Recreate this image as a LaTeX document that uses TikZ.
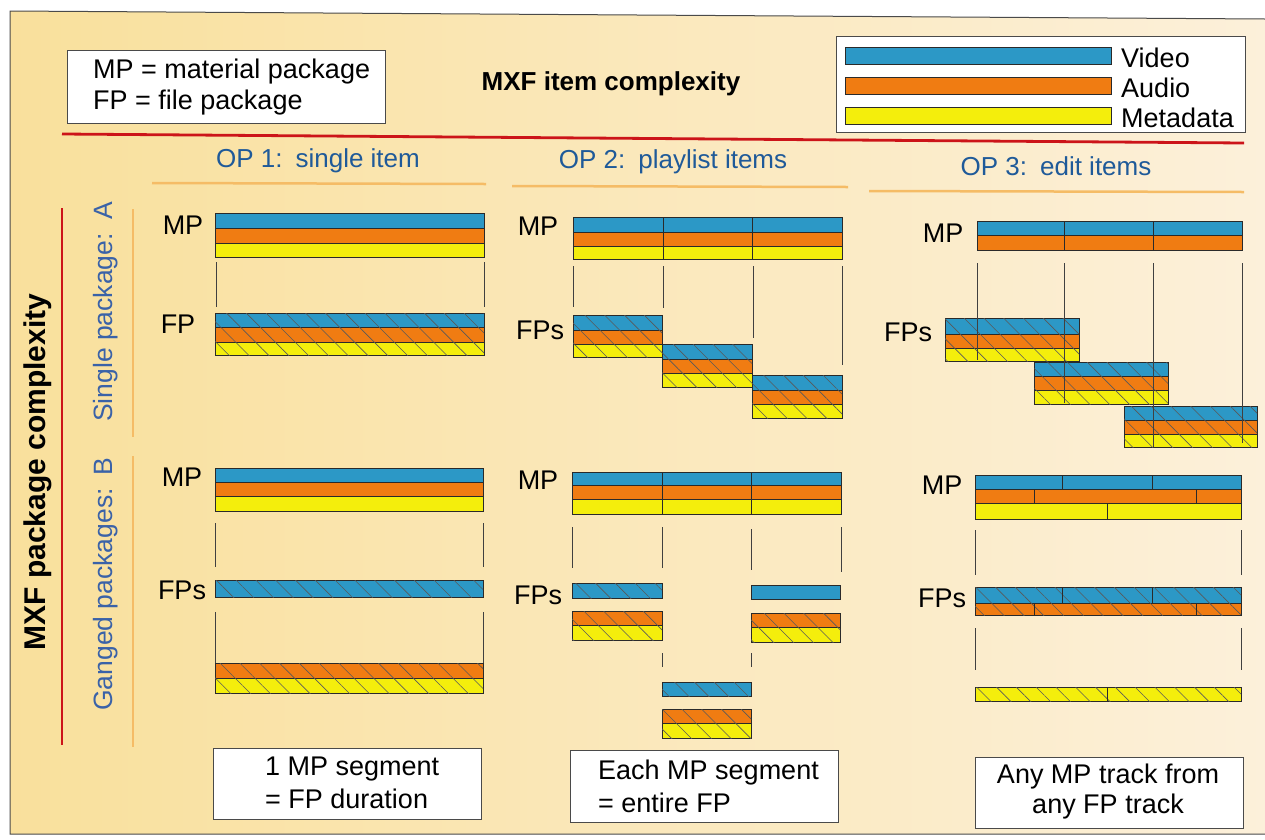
\documentclass[tikz,border=0pt]{standalone}
\usepackage{fontspec}
\setmainfont{Liberation Sans}
\usetikzlibrary{patterns.meta}
\definecolor{vidc}{HTML}{2C98C6}
\definecolor{audc}{HTML}{F07C12}
\definecolor{metc}{HTML}{F4EE0C}
\definecolor{edgec}{HTML}{2A2A2A}
\definecolor{headc}{HTML}{1F5A99}
\definecolor{sidec}{HTML}{3A62A8}
\definecolor{redc}{HTML}{CC1419}
\definecolor{ornc}{HTML}{F5BC66}
\definecolor{bgl}{HTML}{F9E09C}
\definecolor{bgr}{HTML}{FCF0DA}
\definecolor{framec}{HTML}{4A4A4A}
\begin{document}
\begin{tikzpicture}[x=1pt,y=-1pt,
  txt/.style={inner sep=0pt, font=\fontsize{27}{31}\selectfont},
  lab/.style={inner sep=0pt, font=\fontsize{27}{31}\selectfont},
  head/.style={inner sep=0pt, text=headc, font=\fontsize{26}{30}\selectfont},
  side/.style={inner sep=0pt, text=sidec, rotate=90, font=\fontsize{26.5}{30}\selectfont},
  boxst/.style={fill=white, draw=framec, line width=0.8pt},
  vid/.style={fill=vidc, draw=edgec, line width=0.9pt},
  aud/.style={fill=audc, draw=edgec, line width=0.9pt},
  met/.style={fill=metc, draw=edgec, line width=0.9pt},
  hatch/.style={postaction={pattern={Lines[angle=-45,distance=14pt,line width=0.6pt]}, pattern color=black!65}},
  dv/.style={draw=edgec, line width=0.9pt},
  conn/.style={draw=black!75, line width=1pt},
  redl/.style={draw=redc, line width=2.8pt},
  ornl/.style={draw=ornc, line width=2.5pt}]
\useasboundingbox (0,0) rectangle (1265,839);
\fill[white] (0,0) rectangle (1265,839);
\shade[left color=bgl, right color=bgr] (10,11) -- (1265,19) -- (1265,834) -- (10,834) -- cycle;
\draw[framec, line width=1pt] (1265,19) -- (10,11) -- (10,834) -- (1265,834);

% top legends
\draw[boxst] (67,50) rectangle (385,123);
\node[txt, anchor=west] (lg1) at (93,72) {MP = material package};
\node[txt, anchor=west] (lg2) at (93,103) {FP = file package};
\node[inner sep=0pt, font=\bfseries\fontsize{26}{30}\selectfont] (title) at (611,84) {MXF item complexity};
\draw[boxst] (836,36) rectangle (1245,132);
\draw[vid] (845,47) rectangle (1111,64);
\draw[aud] (845,77) rectangle (1111,94);
\draw[met] (845,107) rectangle (1111,124);
\node[txt, anchor=west] (lgv) at (1121,58) {Video};
\node[txt, anchor=west] (lga) at (1121,88) {Audio};
\node[txt, anchor=west] (lgm) at (1121,118) {Metadata};
\draw[redl] (62,134) -- (1244,143);

% column headings
\node[head] (op1) at (318,161) {OP 1:\enspace single item};
\node[head] (op2) at (673,162) {OP 2:\enspace playlist items};
\node[head] (op3) at (1056,166) {OP 3:\enspace edit items};
\draw[ornl] (152,183) -- (486,184);
\draw[ornl] (512,186) -- (848,187);
\draw[ornl] (869,191) -- (1244,192);

% row headings
\draw[redl] (62,208) -- (62,745);
\node[inner sep=0pt, rotate=90, font=\bfseries\fontsize{30}{32}\selectfont] (rowt) at (38,472) {MXF package complexity};
\node[side] (rowa) at (106,312) {Single package:\enspace A};
\node[side] (rowb) at (106,584) {Ganged packages:\enspace B};
\draw[ornl] (133,209) -- (133,437);
\draw[ornl] (133,456) -- (133,747);

% ===== Single, OP1
\node[lab] (s1mp) at (183,225) {MP};
\draw[vid] (215,213) rectangle (484,228);
\draw[aud] (215,228) rectangle (484,243);
\draw[met] (215,243) rectangle (484,257);
\draw[conn] (216,262) -- (216,307);
\draw[conn] (484,262) -- (484,307);
\node[lab] (s1fp) at (178,324) {FP};
\draw[vid,hatch] (215,313) rectangle (484,327);
\draw[aud,hatch] (215,327) rectangle (484,342);
\draw[met,hatch] (215,342) rectangle (484,355);

% ===== Single, OP2
\node[lab] (s2mp) at (538,226) {MP};
\draw[vid] (573,217) rectangle (842,232);
\draw[aud] (573,232) rectangle (842,246);
\draw[met] (573,246) rectangle (842,259);
\draw[dv] (663,217) -- (663,259);
\draw[dv] (752,217) -- (752,259);
\draw[conn] (573,266) -- (573,307);
\draw[conn] (663,266) -- (663,308);
\draw[conn] (753,266) -- (753,338);
\draw[conn] (842,266) -- (842,365);
\node[lab] (s2fp) at (540,330) {FPs};
\draw[vid,hatch] (573,315) rectangle (662,330);
\draw[aud,hatch] (573,330) rectangle (662,344);
\draw[met,hatch] (573,344) rectangle (662,357);
\draw[vid,hatch] (662,344) rectangle (752,359);
\draw[aud,hatch] (662,359) rectangle (752,373);
\draw[met,hatch] (662,373) rectangle (752,387);
\draw[vid,hatch] (752,375) rectangle (842,390);
\draw[aud,hatch] (752,390) rectangle (842,404);
\draw[met,hatch] (752,404) rectangle (842,418);

% ===== Single, OP3
\node[lab] (s3mp) at (943,233) {MP};
\draw[vid] (977,221) rectangle (1242,235);
\draw[aud] (977,235) rectangle (1242,250);
\draw[dv] (1064,221) -- (1064,250);
\draw[dv] (1153,221) -- (1153,250);
\node[lab] (s3fp) at (908,332) {FPs};
\draw[vid,hatch] (945,318) rectangle (1079,334);
\draw[aud,hatch] (945,334) rectangle (1079,348);
\draw[met,hatch] (945,348) rectangle (1079,361);
\draw[vid,hatch] (1034,362) rectangle (1168,376);
\draw[aud,hatch] (1034,376) rectangle (1168,390);
\draw[met,hatch] (1034,390) rectangle (1168,404);
\draw[vid,hatch] (1124,406) rectangle (1257,420);
\draw[aud,hatch] (1124,420) rectangle (1257,434);
\draw[met,hatch] (1124,434) rectangle (1257,447);
\draw[conn] (977,263) -- (977,360);
\draw[conn] (1064,263) -- (1064,403);
\draw[conn] (1153,263) -- (1153,447);
\draw[conn] (1242,263) -- (1242,443);

% ===== Ganged, OP1
\node[lab] (g1mp) at (182,477) {MP};
\draw[vid] (215,468) rectangle (483,482);
\draw[aud] (215,482) rectangle (483,496);
\draw[met] (215,496) rectangle (483,511);
\draw[conn] (215,523) -- (215,567);
\draw[conn] (483,523) -- (483,567);
\node[lab] (g1fp) at (182,590) {FPs};
\draw[vid,hatch] (215,580) rectangle (483,597);
\draw[conn] (215,612) -- (215,663);
\draw[conn] (483,612) -- (483,663);
\draw[aud,hatch] (215,663) rectangle (483,678);
\draw[met,hatch] (215,678) rectangle (483,693);

% ===== Ganged, OP2
\node[lab] (g2mp) at (538,480) {MP};
\draw[vid] (572,472) rectangle (841,485);
\draw[aud] (572,485) rectangle (841,499);
\draw[met] (572,499) rectangle (841,514);
\draw[dv] (662,472) -- (662,514);
\draw[dv] (751,472) -- (751,514);
\draw[conn] (572,527) -- (572,568);
\draw[conn] (662,527) -- (662,568);
\draw[conn] (751,529) -- (751,570);
\draw[conn] (841,527) -- (841,572);
\node[lab] (g2fp) at (538,595) {FPs};
\draw[vid,hatch] (572,583) rectangle (662,598);
\draw[aud,hatch] (572,611) rectangle (662,625);
\draw[met,hatch] (572,625) rectangle (662,640);
\draw[vid] (751,585) rectangle (840,599);
\draw[aud,hatch] (751,613) rectangle (840,627);
\draw[met,hatch] (751,627) rectangle (840,642);
\draw[conn] (662,653) -- (662,667);
\draw[conn] (751,653) -- (751,667);
\draw[vid,hatch] (662,682) rectangle (751,696);
\draw[aud,hatch] (662,709) rectangle (751,723);
\draw[met,hatch] (662,723) rectangle (751,738);

% ===== Ganged, OP3
\node[lab] (g3mp) at (942,485) {MP};
\draw[vid] (975,475) rectangle (1241,489);
\draw[aud] (975,489) rectangle (1241,503);
\draw[met] (975,503) rectangle (1241,519);
\draw[dv] (1062,475) -- (1062,489);
\draw[dv] (1152,475) -- (1152,489);
\draw[dv] (1034,489) -- (1034,503);
\draw[dv] (1196,489) -- (1196,503);
\draw[dv] (1107,503) -- (1107,519);
\draw[conn] (975,530) -- (975,575);
\draw[conn] (1241,530) -- (1241,575);
\node[lab] (g3fp) at (942,598) {FPs};
\draw[vid,hatch] (975,587) rectangle (1241,603);
\draw[aud,hatch] (975,603) rectangle (1241,615);
\draw[dv] (1062,587) -- (1062,603);
\draw[dv] (1152,587) -- (1152,603);
\draw[dv] (1034,603) -- (1034,615);
\draw[dv] (1196,603) -- (1196,615);
\draw[conn] (975,628) -- (975,670);
\draw[conn] (1241,628) -- (1241,670);
\draw[met,hatch] (975,687) rectangle (1241,701);
\draw[dv] (1107,687) -- (1107,701);

% ===== bottom boxes
\draw[boxst] (213,748) rectangle (481,819);
\node[txt, anchor=west] (b1a) at (265,769) {1 MP segment};
\node[txt, anchor=west] (b1b) at (265,799) {= FP duration};
\draw[boxst] (570,750) rectangle (838,822);
\node[txt, anchor=west] (b2a) at (598,773) {Each MP segment};
\node[txt, anchor=west] (b2b) at (598,803) {= entire FP};
\draw[boxst] (975,757) rectangle (1243,828);
\node[txt] (b3a) at (1108,777) {Any MP track from};
\node[txt] (b3b) at (1108,807) {any FP track};
\end{tikzpicture}
\end{document}
